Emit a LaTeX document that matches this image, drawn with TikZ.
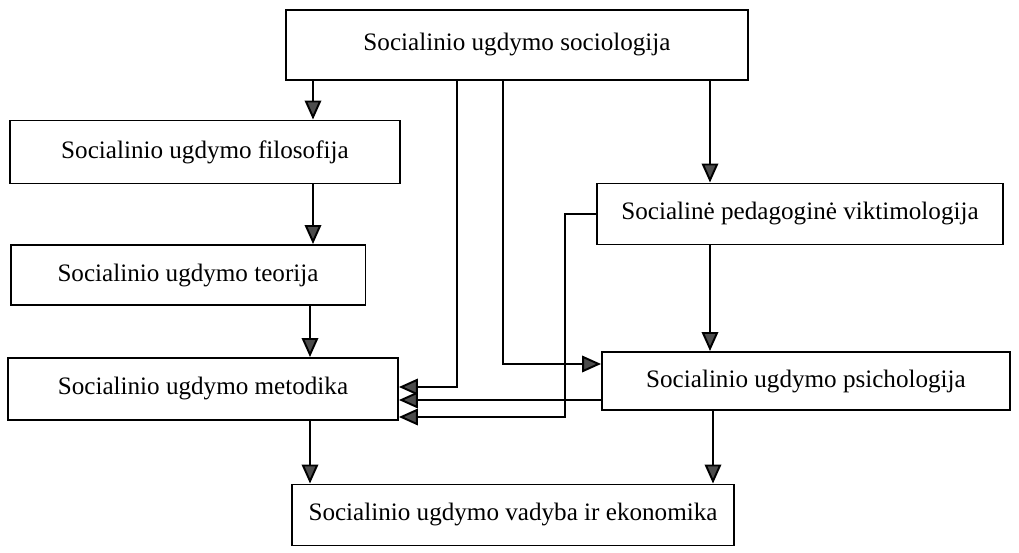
\documentclass[tikz,border=0pt]{standalone}
\usepackage{fontspec}
\setmainfont{Liberation Serif}
\usepackage{tikz}
\usetikzlibrary{arrows.meta, positioning}

\begin{document}
\begin{tikzpicture}
  [
    x=0.02cm, y=-0.02cm,
    Box/.style={rectangle, draw=black, line width=1.1pt, inner sep=0pt, font=\fontsize{14.3}{16}\selectfont},
    Link/.style={-{Triangle[length=3.8mm, width=3.3mm, fill=black!70]}, draw, line width=1.1pt}
  ]
  \useasboundingbox (0,0) rectangle (1019,553);
  % Nodes
  \node[Box, minimum width=9.24cm, minimum height=1.4cm] (soc) at(517, 45) {Socialinio ugdymo sociologija};
  \node[Box, minimum width=7.8cm, minimum height=1.26cm] (filo) at(205, 152) {Socialinio ugdymo filosofija};
  \node[Box, minimum width=7.1cm, minimum height=1.2cm] (teor) at(188, 275) {Socialinio ugdymo teorija};
  \node[Box, minimum width=7.8cm, minimum height=1.24cm] (metod) at(203, 389) {Socialinio ugdymo metodika};
  \node[Box, minimum width=8.12cm, minimum height=1.22cm] (vikt) at(800, 214) {Socialinė pedagoginė viktimologija};
  \node[Box, minimum width=8.16cm, minimum height=1.16cm] (psich) at(806, 381) {Socialinio ugdymo psichologija};
  \node[Box, minimum width=8.86cm, minimum height=1.22cm] (vad) at(513, 515) {Socialinio ugdymo vadyba ir ekonomika};

  % Lines
  \path [Link] (soc.south -| 313,0) -- (filo.north -| 313,0);
  \path [Link] (filo.south -| 313,0) -- (teor.north -| 313,0);
  \path [Link] (teor.south -| 310,0) -- (metod.north -| 310,0);
  \path [Link] (metod.south -| 310,0) -- (vad.north -| 310,0);
  \path [Link] (soc.south -| 710,0) -- (vikt.north -| 710,0);
  \path [Link] (vikt.south -| 710,0) -- (psich.north -| 710,0);
  \path [Link] (psich.south -| 713,0) -- (vad.north -| 713,0);
  \path [Link] (soc.south -| 457,0) |- (metod.east |- 0,387);
  \path [Link] (soc.south -| 503,0) |- (psich.west |- 0,364);
  \path [Link] (psich.west |- 0,400) -- (metod.east |- 0,400);
  \path [Link] (vikt.west) -| (565,417) -- (metod.east |- 0,417);

\end{tikzpicture}
\end{document}
